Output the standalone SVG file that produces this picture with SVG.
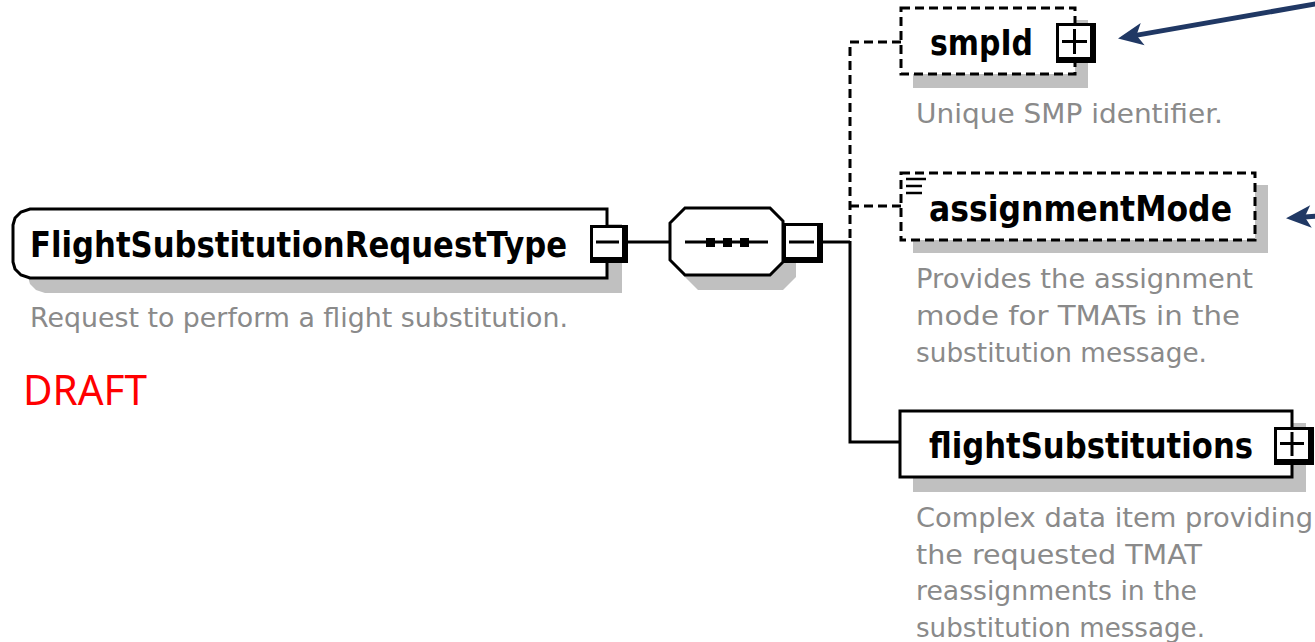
<svg xmlns="http://www.w3.org/2000/svg" width="1315" height="642" viewBox="0 0 1315 642">
  <style>
    .shadow { fill: #c0c0c0; stroke: none; }
    .box { fill: #ffffff; stroke: #000000; stroke-width: 3; }
    .opt { fill: #ffffff; stroke: #000000; stroke-width: 3; stroke-dasharray: 9 5; }
    .wire { fill: none; stroke: #000000; stroke-width: 3; }
    .wire-opt { fill: none; stroke: #000000; stroke-width: 3; stroke-dasharray: 9 5; }
    .btn-outer { fill: #000000; }
    .btn-inner { fill: #ffffff; }
    .glyph { stroke: #000000; stroke-width: 3; fill: none; }
    .name { font-family: "DejaVu Sans", "Liberation Sans", sans-serif; font-weight: bold; font-size: 35px; fill: #000000; }
    .doc { font-family: "DejaVu Sans", "Liberation Sans", sans-serif; font-size: 27px; fill: #8a8a8a; }
    .draft { font-family: "Noto Sans", "Liberation Sans", sans-serif; font-size: 42px; fill: #ff0000; }
    .callout { stroke: #203864; stroke-width: 5; fill: none; }
  </style>
  <defs>
    <marker id="head" markerUnits="userSpaceOnUse" markerWidth="40" markerHeight="30" viewBox="-10 -12 26 24" refX="0" refY="0" orient="auto">
      <path d="M12,0 L-8,-9 L-3,0 L-8,9 Z" fill="#203864"/>
    </marker>
  </defs>

  <!-- connectors -->
  <g id="connectors">
    <line class="wire" x1="625" y1="242" x2="670" y2="242"/>
    <line class="wire" x1="821" y1="242" x2="850" y2="242"/>
    <polyline class="wire" points="850,241 850,442 900,442"/>
    <polyline class="wire-opt" points="901,42 850,42 850,241"/>
    <line class="wire-opt" x1="850" y1="206" x2="901" y2="206"/>
  </g>

  <!-- complex type root -->
  <g id="FlightSubstitutionRequestType">
    <path class="shadow" d="M45,224 H622 V293 H45 L36,290 L30,284 L28,277 V240 L30,233 L36,227 Z"/>
    <path class="box" d="M30,209 H607 V278 H30 L21,275 L15,269 L13,262 V225 L15,218 L21,212 Z"/>
    <rect class="btn-outer" x="590" y="225" width="38" height="38"/>
    <rect class="btn-inner" x="593" y="228" width="29" height="29"/>
    <line class="glyph" x1="596" y1="242" x2="619" y2="242"/>
    <text class="name" x="30" y="257" textLength="537" lengthAdjust="spacingAndGlyphs">FlightSubstitutionRequestType</text>
    <text class="doc" x="30" y="327" textLength="538" lengthAdjust="spacingAndGlyphs">Request to perform a flight substitution.</text>
  </g>

  <text class="draft" x="23" y="405" textLength="124" lengthAdjust="spacingAndGlyphs">DRAFT</text>

  <!-- sequence compositor -->
  <g id="sequence">
    <polygon class="shadow" points="698,223 783,223 796,236 796,277 783,290 698,290 683,275 683,238"/>
    <polygon class="box" points="685,208 770,208 783,221 783,262 770,275 685,275 670,260 670,223"/>
    <line class="wire" x1="685" y1="242" x2="768" y2="242"/>
    <rect x="706" y="238" width="9" height="9" fill="#000000"/>
    <rect x="723" y="238" width="9" height="9" fill="#000000"/>
    <rect x="740" y="238" width="9" height="9" fill="#000000"/>
    <rect class="btn-outer" x="783" y="223" width="40" height="40"/>
    <rect class="btn-inner" x="786" y="226" width="31" height="31"/>
    <line class="glyph" x1="789" y1="242" x2="814" y2="242"/>
  </g>

  <!-- optional element smpId -->
  <g id="smpId">
    <rect class="shadow" x="913" y="20" width="175" height="68"/>
    <rect class="opt" x="901" y="8" width="174" height="66"/>
    <rect class="btn-outer" x="1056" y="23" width="40" height="40"/>
    <rect class="btn-inner" x="1059" y="26" width="31" height="31"/>
    <line class="glyph" x1="1062" y1="41.5" x2="1087" y2="41.5"/>
    <line class="glyph" x1="1074.5" y1="29" x2="1074.5" y2="54"/>
    <text class="name" x="930" y="55" textLength="103" lengthAdjust="spacingAndGlyphs">smpId</text>
    <text class="doc" x="916" y="123" textLength="307" lengthAdjust="spacingAndGlyphs">Unique SMP identifier.</text>
  </g>

  <!-- optional simple element assignmentMode -->
  <g id="assignmentMode">
    <rect class="shadow" x="913" y="185" width="355" height="68"/>
    <rect class="opt" x="901" y="173" width="354" height="67"/>
    <line x1="906" y1="179" x2="926" y2="179" stroke="#000000" stroke-width="2.5"/>
    <line x1="906" y1="186" x2="922" y2="186" stroke="#000000" stroke-width="2.5"/>
    <line x1="906" y1="193" x2="922" y2="193" stroke="#000000" stroke-width="2.5"/>
    <text class="name" x="929" y="221" textLength="303" lengthAdjust="spacingAndGlyphs">assignmentMode</text>
    <text class="doc" x="916" y="288" textLength="337" lengthAdjust="spacingAndGlyphs">Provides the assignment</text>
    <text class="doc" x="916" y="325" textLength="324" lengthAdjust="spacingAndGlyphs">mode for TMATs in the</text>
    <text class="doc" x="916" y="362" textLength="291" lengthAdjust="spacingAndGlyphs">substitution message.</text>
  </g>

  <!-- required element flightSubstitutions -->
  <g id="flightSubstitutions">
    <rect class="shadow" x="913" y="423" width="393" height="69"/>
    <rect class="box" x="900" y="411" width="392" height="66"/>
    <rect class="btn-outer" x="1274" y="427" width="40" height="38"/>
    <rect class="btn-inner" x="1277" y="430" width="31" height="29"/>
    <line class="glyph" x1="1280" y1="443.5" x2="1304" y2="443.5"/>
    <line class="glyph" x1="1292" y1="432" x2="1292" y2="456"/>
    <text class="name" x="929" y="458" textLength="324" lengthAdjust="spacingAndGlyphs">flightSubstitutions</text>
    <text class="doc" x="916" y="527" textLength="397" lengthAdjust="spacingAndGlyphs">Complex data item providing</text>
    <text class="doc" x="916" y="563.5" textLength="286" lengthAdjust="spacingAndGlyphs">the requested TMAT</text>
    <text class="doc" x="916" y="600" textLength="281" lengthAdjust="spacingAndGlyphs">reassignments in the</text>
    <text class="doc" x="916" y="636.5" textLength="289" lengthAdjust="spacingAndGlyphs">substitution message.</text>
  </g>

  <!-- callout arrows -->
  <g id="callouts">
    <line class="callout" x1="1318" y1="3.5" x2="1132.8" y2="35.9" marker-end="url(#head)"/>
    <line class="callout" x1="1318" y1="216" x2="1301" y2="217.2" marker-end="url(#head)"/>
  </g>
</svg>
